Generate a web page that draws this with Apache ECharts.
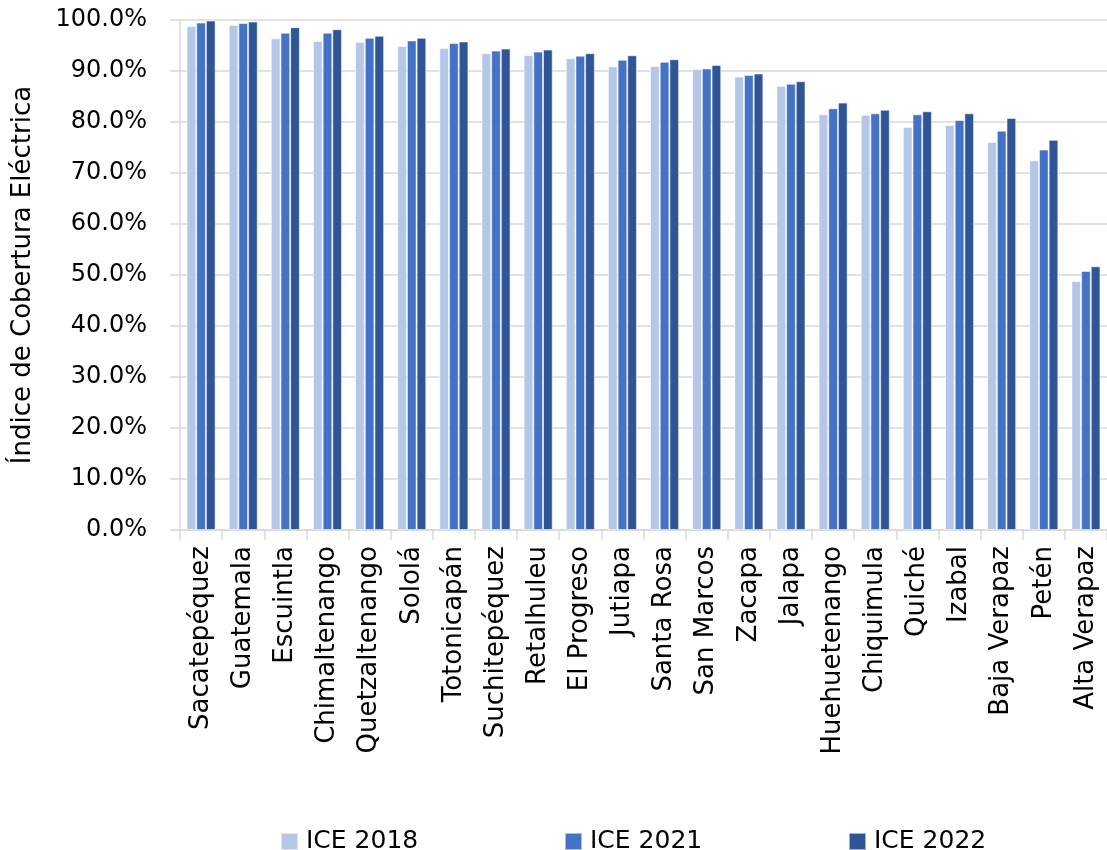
<!DOCTYPE html>
<html>
<head>
<meta charset="utf-8">
<script src="https://cdn.jsdelivr.net/npm/echarts@6/dist/echarts.min.js"></script>
<style>
  html, body { margin: 0; padding: 0; background: #ffffff; }
  #chart { width: 1107px; height: 850px; }
</style>
</head>
<body>
<div id="chart"></div>
<script>
// Departamentos de Guatemala, ordenados por cobertura
const departamentos = [
  'Sacatepéquez', 'Guatemala', 'Escuintla', 'Chimaltenango', 'Quetzaltenango',
  'Sololá', 'Totonicapán', 'Suchitepéquez', 'Retalhuleu', 'El Progreso',
  'Jutiapa', 'Santa Rosa', 'San Marcos', 'Zacapa', 'Jalapa',
  'Huehuetenango', 'Chiquimula', 'Quiché', 'Izabal', 'Baja Verapaz',
  'Petén', 'Alta Verapaz'
];

// Índice de Cobertura Eléctrica (%)
const ice2018 = [98.8, 99.0, 96.4, 95.9, 95.7, 94.9, 94.5, 93.5, 93.1, 92.5,
                 90.9, 91.0, 90.4, 88.9, 87.1, 81.5, 81.4, 79.0, 79.4, 76.1,
                 72.5, 48.8];
const ice2021 = [99.5, 99.4, 97.5, 97.5, 96.5, 96.0, 95.5, 94.0, 93.8, 93.0,
                 92.2, 91.8, 90.5, 89.2, 87.5, 82.7, 81.7, 81.5, 80.4, 78.3,
                 74.6, 50.8];
const ice2022 = [99.9, 99.7, 98.6, 98.2, 96.9, 96.5, 95.8, 94.4, 94.2, 93.5,
                 93.1, 92.3, 91.2, 89.5, 88.0, 83.8, 82.4, 82.1, 81.7, 80.8,
                 76.5, 51.7];

const seriesNames = ['ICE 2018', 'ICE 2021', 'ICE 2022'];
const colors = ['#B4C7E7', '#4472C4', '#2F5597'];

const baseFont = 'DejaVu Sans';

const chart = echarts.init(document.getElementById('chart'), null, { renderer: 'canvas' });

function barSeries(name, data, color) {
  return {
    name: name,
    type: 'bar',
    data: data,
    barGap: '0%',
    barCategoryGap: '31%',
    itemStyle: {
      color: color,
      borderColor: 'rgba(255,255,255,0.55)',
      borderWidth: 1
    }
  };
}

// one legend block per series so the three entries can be spread out
function legendAt(left, idx) {
  return {
    data: [seriesNames[idx]],
    left: left,
    top: 824,
    itemWidth: 17,
    itemHeight: 17,
    itemGap: 8,
    icon: 'rect',
    textStyle: { fontFamily: baseFont, fontSize: 25, color: '#000', padding: [0, 0, 0, 3] }
  };
}

chart.setOption({
  backgroundColor: '#ffffff',
  animation: false,
  color: colors,
  grid: { left: 180, right: 0, top: 20, bottom: 320, containLabel: false },
  legend: [legendAt(275, 0), legendAt(559, 1), legendAt(843, 2)],
  xAxis: {
    type: 'category',
    data: departamentos,
    axisLine: { show: true, lineStyle: { color: '#d9d9d9', width: 1.5 } },
    axisTick: { show: true, length: 10, lineStyle: { color: '#d9d9d9', width: 1.5 } },
    axisLabel: {
      rotate: 90,
      interval: 0,
      margin: 16,
      fontFamily: baseFont,
      fontSize: 26,
      color: '#000'
    }
  },
  yAxis: {
    type: 'value',
    min: 0,
    max: 100,
    interval: 10,
    name: 'Índice de Cobertura Eléctrica',
    nameLocation: 'middle',
    nameGap: 144,
    nameRotate: 90,
    nameTextStyle: { fontFamily: baseFont, fontSize: 26, color: '#000' },
    axisLine: { show: true, lineStyle: { color: '#d9d9d9', width: 1.5 } },
    axisTick: { show: true, length: 10, lineStyle: { color: '#d9d9d9', width: 1.5 } },
    splitLine: { show: true, lineStyle: { color: '#d9d9d9', width: 1.5 } },
    axisLabel: {
      margin: 33,
      fontFamily: baseFont,
      fontSize: 24,
      color: '#000',
      formatter: v => v.toFixed(1) + '%'
    }
  },
  series: [
    barSeries(seriesNames[0], ice2018, colors[0]),
    barSeries(seriesNames[1], ice2021, colors[1]),
    barSeries(seriesNames[2], ice2022, colors[2])
  ]
});
</script>
</body>
</html>
